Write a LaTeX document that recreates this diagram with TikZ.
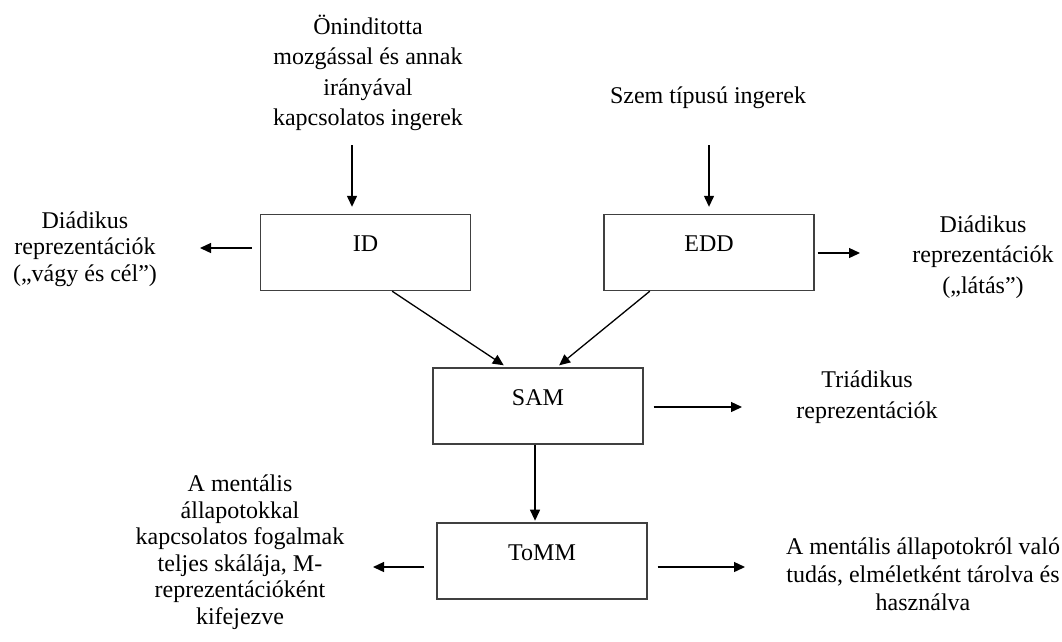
\documentclass[tikz,border=0pt]{standalone}
\usepackage{fontspec}
\setmainfont{Liberation Serif}
\usetikzlibrary{arrows.meta,calc}
\begin{document}
\begin{tikzpicture}[x=1pt,y=-1pt,
  every node/.style={font=\fontsize{24}{28}\selectfont},
  box/.style={draw=black!75,line width=1.4pt,minimum width=210pt,minimum height=76pt,inner sep=0pt,text depth=17pt},
  lbl/.style={align=center,inner sep=0pt},
  wide/.style={font=\fontsize{24}{30.5}\selectfont},
  tight/.style={font=\fontsize{24}{26.5}\selectfont},
  arr/.style={line width=1.3pt,-{Triangle[length=11pt,width=10pt]}}]
\useasboundingbox (0,0) rectangle (1062,641);
\fill[white] (0,0) rectangle (1062,641);
% boxes
\node[box] (ID) at (365.5,252.5) {ID};
\node[box] (EDD) at (709,252.5) {EDD};
\node[box] (SAM) at (538,406) {SAM};
\node[box] (ToMM) at (542,561) {ToMM};
% texts
\node[lbl,wide] (tin) at (368,73) {Öninditotta\\mozgással és annak\\irányával\\kapcsolatos ingerek};
\node[lbl] (tszem) at (708,98) {Szem típusú ingerek};
\node[lbl,tight] (tl1) at (85,249) {Diádikus\\reprezentációk\\(„vágy és cél”)};
\node[lbl,wide] (tr1) at (983,257) {Diádikus\\reprezentációk\\(„látás”)};
\node[lbl,wide] (ttri) at (867,397) {Triádikus\\reprezentációk};
\node[lbl,tight] (tl2) at (240,552) {A mentális\\állapotokkal\\kapcsolatos fogalmak\\teljes skálája, M-\\reprezentációként\\kifejezve};
\node[lbl] (tr2) at (923,574) {A mentális állapotokról való\\tudás, elméletként tárolva és\\használva};
% free ends
\coordinate (a1) at (352,145);
\coordinate (a2) at (709,145);
\coordinate (l1) at (200,248);
\coordinate (r1) at (860,253);
\coordinate (r2) at (742,407);
\coordinate (l2) at (373,567);
\coordinate (r3) at (745,567);
% arrows
\draw[arr] (a1) -- ($(a1 |- ID.north)+(0,-7)$);
\draw[arr] (a2) -- ($(a2 |- EDD.north)+(0,-7)$);
\draw[arr] ($(ID.west)+(-8,-4.5)$) -- (l1);
\draw[arr] ($(EDD.east)+(3,0.5)$) -- (r1);
\draw[arr] ($(ID.south west)!0.626!(ID.south east)$) -- ($(SAM.north west)!0.338!(SAM.north east)+(0,-2)$);
\draw[arr] ($(EDD.south west)!0.22!(EDD.south east)$) -- ($(SAM.north west)!0.6!(SAM.north east)+(0,-2)$);
\draw[arr] ($(SAM.east)+(10,1)$) -- (r2);
\draw[arr] ($(SAM.south west)!0.486!(SAM.south east)$) -- ($(SAM.south west)!0.486!(SAM.south east)+(0,76)$);
\draw[arr] ($(ToMM.west)+(-12,6)$) -- (l2);
\draw[arr] ($(ToMM.east)+(10,6)$) -- (r3);
\end{tikzpicture}
\end{document}
